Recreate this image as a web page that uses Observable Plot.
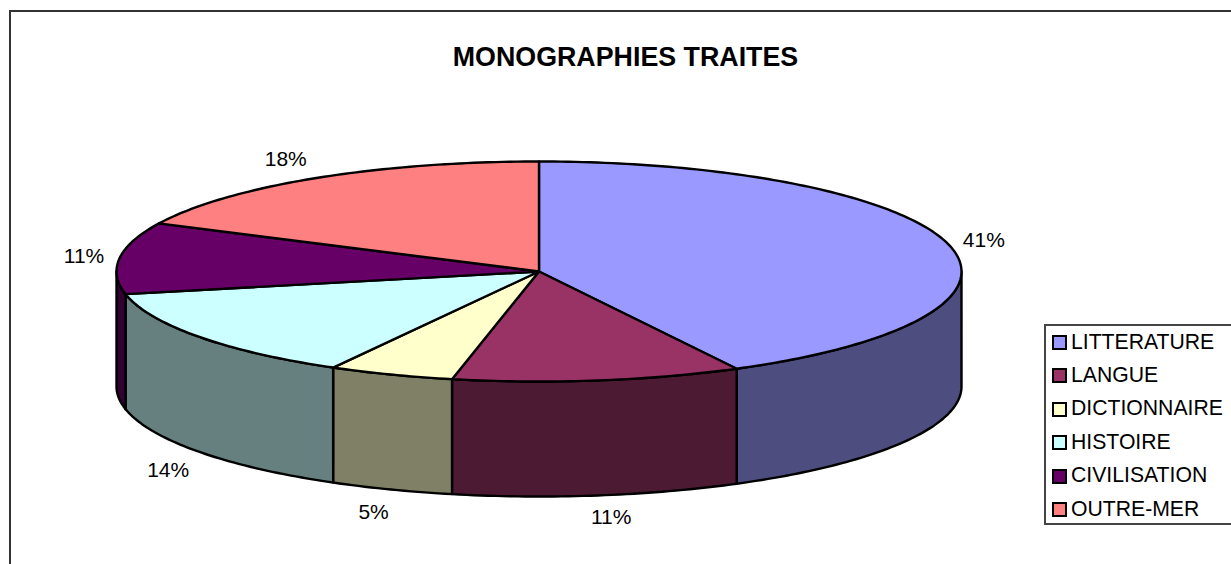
<!DOCTYPE html>
<html>
<head>
<meta charset="utf-8">
<script src="https://cdn.jsdelivr.net/npm/d3@7"></script>
<script src="https://cdn.jsdelivr.net/npm/@observablehq/plot@0.6"></script>
<style>
html,body{margin:0;padding:0;background:#fff;overflow:hidden}
#chart{position:relative;width:1231px;height:564px;font-family:"Liberation Sans",Arial,sans-serif;color:#000;overflow:hidden}
#chart svg{position:absolute;left:0;top:0;background:transparent}
#frame{position:absolute;left:9px;top:10px;width:1300px;height:700px;border:2px solid #333;box-sizing:border-box}
#title{position:absolute;left:0;width:1251px;top:42px;text-align:center;font-weight:bold;font-size:26.8px;line-height:30px}
#legend{position:absolute;left:1044px;top:324px;width:300px;height:201px;border:2px solid #444;box-sizing:border-box;background:#fff}
.row{position:absolute;left:0;height:33px;line-height:33px;font-size:21.2px;white-space:nowrap}
.sw{position:absolute;left:6px;top:9px;width:15px;height:15px;border:2.5px solid #000;box-sizing:border-box}
.lb{position:absolute;left:25px;top:-1.5px}
</style>
</head>
<body>
<div id="chart">
  <div id="frame"></div>
  <div id="title"></div>
  <div id="legend"></div>
</div>
<script>
const chartTitle = "MONOGRAPHIES TRAITES";
const categories = ["LITTERATURE", "LANGUE", "DICTIONNAIRE", "HISTOIRE", "CIVILISATION", "OUTRE-MER"];
const shares = [42.25, 11.05, 4.8, 13.6, 10.5, 17.8];
const percentLabels = ["41%", "11%", "5%", "14%", "11%", "18%"];
const colors = ["#9999FF", "#993366", "#FFFFCC", "#CCFFFF", "#660066", "#FF8080"];

const W = 1231, H = 564;
const depth = 115 / 110; // pie thickness in y-radius units
const rad = a => a * Math.PI / 180;
const px = a => Math.sin(rad(a));
const py = a => -Math.cos(rad(a));
const shade = c => { const k = d3.rgb(c); return d3.rgb(k.r / 2, k.g / 2, k.b / 2).formatHex(); };

let acc = 0;
const slices = categories.map((name, i) => {
  const a0 = acc; acc += shares[i] * 3.6;
  return {name, i, a0, a1: acc, mid: (a0 + acc) / 2, color: colors[i], label: percentLabels[i]};
});
const arc = (a0, a1) => d3.range(0, 1.0001, 1 / Math.max(2, Math.ceil(a1 - a0))).map(t => a0 + (a1 - a0) * t);

const tops = [], walls = [];
for (const s of slices) {
  tops.push({id: s.name, color: s.color, x: 0, y: 0});
  for (const a of arc(s.a0, s.a1)) tops.push({id: s.name, color: s.color, x: px(a), y: py(a)});
  const w0 = Math.max(s.a0, 90), w1 = Math.min(s.a1, 270);
  if (w0 < w1) {
    const pts = arc(w0, w1);
    for (const a of pts) walls.push({id: s.name, color: shade(s.color), x: px(a), y: py(a)});
    for (const a of pts.slice().reverse()) walls.push({id: s.name, color: shade(s.color), x: px(a), y: py(a) + depth});
  }
}
// small layout nudges (pixels) applied after the radial label placement
const nudgeX = [-2, 8, -4, 0, 2, -9];
const nudgeY = [1, -2, 0, 4, 1, 1];
const labels = slices.map((s, i) => {
  const front = s.mid > 90 && s.mid < 270;
  return {
    text: s.label,
    x: px(s.mid) * (1 + 38 / 423) + nudgeX[i] / 422.5,
    y: py(s.mid) * (1 + 24 / 110) + (front ? depth : 0) + nudgeY[i] / 110
  };
});

const plot = Plot.plot({
  width: W, height: H, margin: 0,
  style: {background: "transparent", fontFamily: '"Liberation Sans", Arial, sans-serif'},
  x: {domain: [-1, 1], range: [116, 961], axis: null},
  y: {domain: [-1, 1], range: [161, 381], axis: null},
  color: {type: "identity"},
  marks: [
    Plot.line(walls, {x: "x", y: "y", z: "id", fill: "color", stroke: "#000", strokeWidth: 2.4, curve: "linear-closed", strokeLinejoin: "round"}),
    Plot.line(tops, {x: "x", y: "y", z: "id", fill: "color", stroke: "#000", strokeWidth: 2.4, curve: "linear-closed", strokeLinejoin: "round"}),
    Plot.text(labels, {x: "x", y: "y", text: "text", fontSize: 21, fill: "#000", textAnchor: "middle", lineAnchor: "middle"})
  ]
});
document.getElementById("chart").appendChild(plot);
document.getElementById("title").textContent = chartTitle;

const legend = document.getElementById("legend");
categories.forEach((name, i) => {
  const row = document.createElement("div");
  row.className = "row";
  row.style.top = (i * 33.4) + "px";
  const sw = document.createElement("div");
  sw.className = "sw"; sw.style.background = colors[i];
  const lb = document.createElement("div");
  lb.className = "lb"; lb.textContent = name;
  row.append(sw, lb);
  legend.appendChild(row);
});
</script>
</body>
</html>
